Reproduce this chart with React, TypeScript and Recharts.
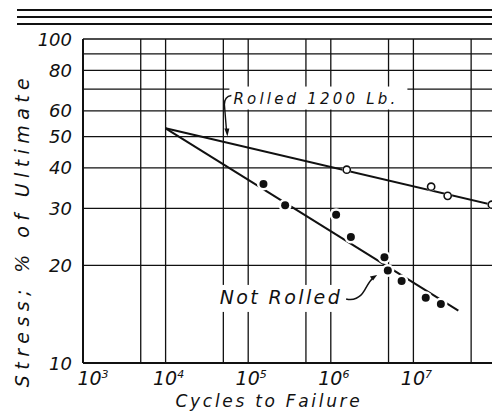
import React from 'react';
import {
  ComposedChart,
  Line,
  Scatter,
  XAxis,
  YAxis,
  CartesianGrid,
  ReferenceDot,
  Label
} from 'recharts';

const FONT = '"DejaVu Sans", Verdana, sans-serif';
const INK = '#111';

// grid / ticks
const cycleTicks = [1e3, 5e3, 1e4, 5e4, 1e5, 5e5, 1e6, 5e6, 1e7, 5e7];
const cycleLabelValues = [1e3, 1e4, 1e5, 1e6, 1e7];
const cycleLabelExps = ['3', '4', '5', '6', '7'];
const stressTicks = [10, 20, 30, 40, 50, 60, 70, 80, 90, 100];
const stressLabels = [10, 20, 30, 40, 50, 60, 80, 100];

// rolled 1200 lb. (open circles) and its fitted line
const rolledCycles = [1.56e6, 1.64e7, 2.6e7, 8.9e7];
const rolledStress = [39.5, 35.0, 32.8, 30.8];
const rolledFitCycles = [1e4, 1e8];
const rolledFitStress = [53, 30.6];

// not rolled (solid dots) and its fitted line
const notRolledCycles = [1.53e5, 2.8e5, 1.16e6, 1.75e6, 4.46e6, 4.9e6, 7.2e6, 1.41e7, 2.15e7];
const notRolledStress = [35.7, 30.7, 28.7, 24.5, 21.2, 19.3, 17.9, 15.9, 15.2];
const notRolledFitCycles = [1e4, 3.5e7];
const notRolledFitStress = [53, 14.5];

// annotation arrow tips
const rolledNote = { cycles: 5.6e4, stress: 50, text: 'Rolled 1200 Lb.' };
const notRolledNote = { cycles: 3.64e6, stress: 18.7, text: 'Not Rolled' };

const toPoints = (xs: number[], ys: number[]) => xs.map((x, i) => ({ x, y: ys[i] }));

const CycleTick = (props: any) => {
  const { x, y, payload } = props;
  const idx = cycleLabelValues.findIndex(v => Math.abs(v - payload.value) < v * 1e-6);
  if (idx < 0) return <g />;
  const shift = idx === 0 ? 10 : 3;
  return (
    <text x={x + shift} y={y + 14} textAnchor="middle" fontSize={19} fontStyle="italic" fontFamily={FONT} fill={INK}>
      10<tspan dy={-7} fontSize={11}>{cycleLabelExps[idx]}</tspan>
    </text>
  );
};

const StressTick = (props: any) => {
  const { x, y, payload } = props;
  if (!stressLabels.includes(payload.value)) return <g />;
  return (
    <text x={x - 3} y={y + 6.5} textAnchor="end" fontSize={18} fontStyle="italic" fontFamily={FONT} fill={INK}>
      {payload.value}
    </text>
  );
};

const SolidDot = (p: any) => (
  <g>
    <circle cx={p.cx} cy={p.cy} r={6.5} fill="#fff" />
    <circle cx={p.cx} cy={p.cy} r={4} fill={INK} />
  </g>
);

const OpenDot = (p: any) => (
  <g>
    <circle cx={p.cx} cy={p.cy} r={4.5} fill="#fff" />
    <circle cx={p.cx} cy={p.cy} r={3.6} fill="#fff" stroke={INK} strokeWidth={1.6} />
  </g>
);

const RolledCallout = (p: any) => {
  const { cx, cy } = p;
  return (
    <g>
      <rect x={cx + 2} y={cy - 50} width={178} height={23} fill="#fff" />
      <text x={cx + 6} y={cy - 33} fontSize={15} fontStyle="italic" fontFamily={FONT} fill={INK} letterSpacing={3.2}>
        {rolledNote.text}
      </text>
      <path d={`M ${cx + 4} ${cy - 41} Q ${cx - 3} ${cy - 40} ${cx - 3} ${cy - 32} L ${cx - 1} ${cy - 7}`} fill="none" stroke={INK} strokeWidth={1.4} />
      <path d={`M ${cx} ${cy} L ${cx - 3} ${cy - 8} L ${cx + 2} ${cy - 8} Z`} fill={INK} />
    </g>
  );
};

const NotRolledCallout = (p: any) => {
  const { cx, cy } = p;
  return (
    <g>
      <rect x={cx - 162} y={cy + 10} width={131} height={27} fill="#fff" />
      <text x={cx - 35} y={cy + 29} textAnchor="end" fontSize={19} fontStyle="italic" fontFamily={FONT} fill={INK} letterSpacing={2.4}>
        {notRolledNote.text}
      </text>
      <path d={`M ${cx - 31} ${cy + 24} C ${cx - 24} ${cy + 26} ${cx - 17} ${cy + 23} ${cx - 13} ${cy + 16} S ${cx - 7} ${cy + 5} ${cx - 3} ${cy + 2}`} fill="none" stroke={INK} strokeWidth={1.5} />
      <path d={`M ${cx} ${cy} L ${cx - 7.3} ${cy + 1.7} L ${cx - 4.1} ${cy + 5.7} Z`} fill={INK} />
    </g>
  );
};

const App: React.FC = () => {
  const rolledPts = toPoints(rolledCycles, rolledStress);
  const notRolledPts = toPoints(notRolledCycles, notRolledStress);
  const rolledFit = toPoints(rolledFitCycles, rolledFitStress);
  const notRolledFit = toPoints(notRolledFitCycles, notRolledFitStress);

  return (
    <div style={{ position: 'absolute', left: 0, top: 0, width: 492, height: 413, overflow: 'hidden', background: '#fff' }}>
      {/* page rules above the figure */}
      <div style={{ position: 'absolute', left: 17, right: 0, top: 9, height: 2, background: INK }} />
      <div style={{ position: 'absolute', left: 17, right: 0, top: 16, height: 1.5, background: INK }} />
      <div style={{ position: 'absolute', left: 17, right: 0, top: 23, height: 1.5, background: INK }} />
      <div style={{ position: 'absolute', left: 0, top: 0 }}>
        <ComposedChart width={500} height={413} margin={{ top: 39, right: 4, bottom: 0, left: 0 }}>
          <CartesianGrid stroke={INK} strokeWidth={1.3} />
          <XAxis
            dataKey="x"
            type="number"
            scale="log"
            domain={[1e3, 1e8]}
            allowDataOverflow
            ticks={cycleTicks}
            interval={0}
            tick={<CycleTick />}
            tickLine={false}
            axisLine={{ stroke: INK, strokeWidth: 2 }}
            height={50}
          >
            <Label
              content={() => (
                <text x={269} y={407} textAnchor="middle" fontSize={17} fontStyle="italic" fontFamily={FONT} fill={INK} letterSpacing={2.7}>
                  Cycles to Failure
                </text>
              )}
            />
          </XAxis>
          <YAxis
            dataKey="y"
            type="number"
            scale="log"
            domain={[10, 100]}
            allowDataOverflow
            ticks={stressTicks}
            interval={0}
            tick={<StressTick />}
            tickLine={false}
            axisLine={{ stroke: INK, strokeWidth: 2 }}
            width={83}
          >
            <Label
              content={() => (
                <text x={22} y={230} transform="rotate(-90 22 230)" textAnchor="middle" dominantBaseline="central" fontSize={19} fontStyle="italic" fontFamily={FONT} fill={INK} letterSpacing={5.4}>
                  Stress; % of Ultimate
                </text>
              )}
            />
          </YAxis>
          <Line data={rolledFit} dataKey="y" type="linear" stroke={INK} strokeWidth={2} dot={false} isAnimationActive={false} />
          <Line data={notRolledFit} dataKey="y" type="linear" stroke={INK} strokeWidth={2} dot={false} isAnimationActive={false} />
          <Scatter data={notRolledPts} dataKey="y" shape={SolidDot} isAnimationActive={false} />
          <Scatter data={rolledPts} dataKey="y" shape={OpenDot} isAnimationActive={false} />
          <ReferenceDot x={rolledNote.cycles} y={rolledNote.stress} r={0} shape={RolledCallout} />
          <ReferenceDot x={notRolledNote.cycles} y={notRolledNote.stress} r={0} shape={NotRolledCallout} />
        </ComposedChart>
      </div>
    </div>
  );
};

export default App;
